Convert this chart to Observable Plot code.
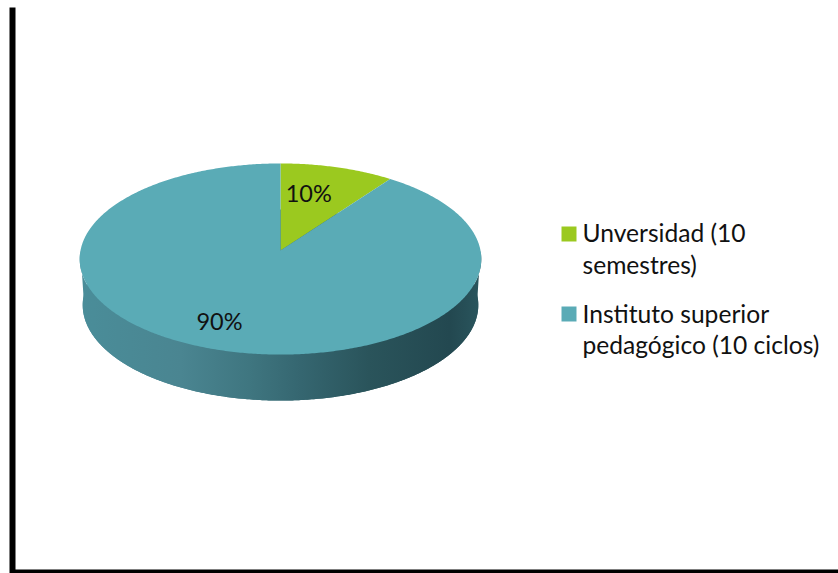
<!DOCTYPE html>
<html>
<head>
<meta charset="utf-8">
<style>html,body{margin:0;padding:0;background:#fff}svg{display:block}</style>
<script src="https://cdn.jsdelivr.net/npm/d3@7"></script>
<script src="https://cdn.jsdelivr.net/npm/@observablehq/plot@0.6"></script>
</head>
<body>
<div id="chart"></div>
<script>
const categories = ["Unversidad (10 semestres)", "Instituto superior pedagógico (10 ciclos)"];
const shares = [10, 90];
const shareLabels = ["10%", "90%"];
const sliceColors = ["#9bc91f", "#5aabb6"];
const legendLines = [["Unversidad (10", "semestres)"], ["Instituto superior", "pedagógico (10 ciclos)"]];

// Perspective of the tilted disc, in units of the pie radius
const flatten = 0.474, persp = 0.089, depth = 0.23, baseRadius = 0.985;
const project = (t, r = 1, rim = 1, drop = 0) => {
  const u = r * Math.sin(t), v = r * Math.cos(t), w = 1 + persp * v;
  return {x: rim * u / w, y: flatten * v / w - drop};
};
const arc = (a, b, r, rim, drop) => {
  const n = Math.max(2, Math.ceil(Math.abs(b - a) / 0.01));
  return d3.range(n + 1).map(i => project(a + (b - a) * i / n, r, rim, drop));
};
const total = d3.sum(shares);
const cum = d3.cumsum(shares);
const sliceAngles = shares.map((s, i) => [(cum[i] - s) / total * 2 * Math.PI, cum[i] / total * 2 * Math.PI]);
const slicePaths = sliceAngles.map(([a, b]) => [project(0, 0), ...arc(a, b, 1, 1, 0)]);
const basePath = arc(0, 2 * Math.PI, 1, baseRadius, depth);
const wallPath = [...arc(Math.PI / 2, 3 * Math.PI / 2, 1, 1, 0), ...arc(3 * Math.PI / 2, Math.PI / 2, 1, baseRadius, depth)];
const mid = sliceAngles.map(([a, b]) => project((a + b) / 2, 0.6));

const gradient = () => {
  const g = d3.create("svg:linearGradient").attr("id", "wall")
    .attr("gradientUnits", "userSpaceOnUse")
    .attr("x1", 80).attr("x2", 481).attr("y1", 0).attr("y2", 0);
  [[0, "#4a8d99"], [0.25, "#4a8591"], [0.42, "#3f7680"], [0.55, "#356670"], [0.72, "#2a545b"], [0.92, "#234850"], [1, "#2a565e"]]
    .forEach(([o, c]) => g.append("stop").attr("offset", o).attr("stop-color", c));
  const defs = d3.create("svg:defs");
  defs.append(() => g.node());
  return defs.node();
};

const swatch = (i, dy) => Plot.dot([categories[i]], {
  frameAnchor: "top-left", dx: 556.5, dy, symbol: "square", r: 8.46, fill: sliceColors[i], stroke: "none"
});
const textOpts = {fontFamily: "Lato, sans-serif", fill: "#111", stroke: "none"};
const legendText = (s, dy) => Plot.text([s], {
  ...textOpts, text: d => d, frameAnchor: "top-left", dx: 570, dy, textAnchor: "start", lineAnchor: "bottom", fontSize: 24.6
});

const plot = Plot.plot({
  width: 838, height: 573,
  marginLeft: 12, marginTop: 10, marginBottom: 2, marginRight: 0,
  style: {background: "#fff"},
  x: {domain: [-1.4, 2.79], range: [0, 838], axis: null},
  y: {domain: [-1.615, 1.25], range: [573, 0], axis: null},
  marks: [
    gradient,
    Plot.line(basePath, {x: "x", y: "y", fill: "url(#wall)", stroke: "none"}),
    Plot.line(wallPath, {x: "x", y: "y", fill: "url(#wall)", stroke: "none"}),
    ...slicePaths.map((p, i) => Plot.line(p, {x: "x", y: "y", fill: sliceColors[i], stroke: "none"})),
    Plot.text([shareLabels[0]], {...textOpts, text: d => d, x: mid[0].x, y: mid[0].y, dx: -7, dy: -5, fontSize: 23.5}),
    Plot.text([shareLabels[1]], {...textOpts, text: d => d, x: mid[1].x, y: mid[1].y, dx: -22, dy: 15, fontSize: 23.5}),
    swatch(0, 223.5),
    swatch(1, 303.5),
    legendText(legendLines[0][0], 231),
    legendText(legendLines[0][1], 263),
    legendText(legendLines[1][0], 312),
    legendText(legendLines[1][1], 343),
    Plot.frame({anchor: "left", stroke: "#000", strokeWidth: 6, strokeLinecap: "square"}),
    Plot.frame({anchor: "bottom", stroke: "#000", strokeWidth: 4})
  ]
});
document.getElementById("chart").append(plot);
</script>
</body>
</html>
